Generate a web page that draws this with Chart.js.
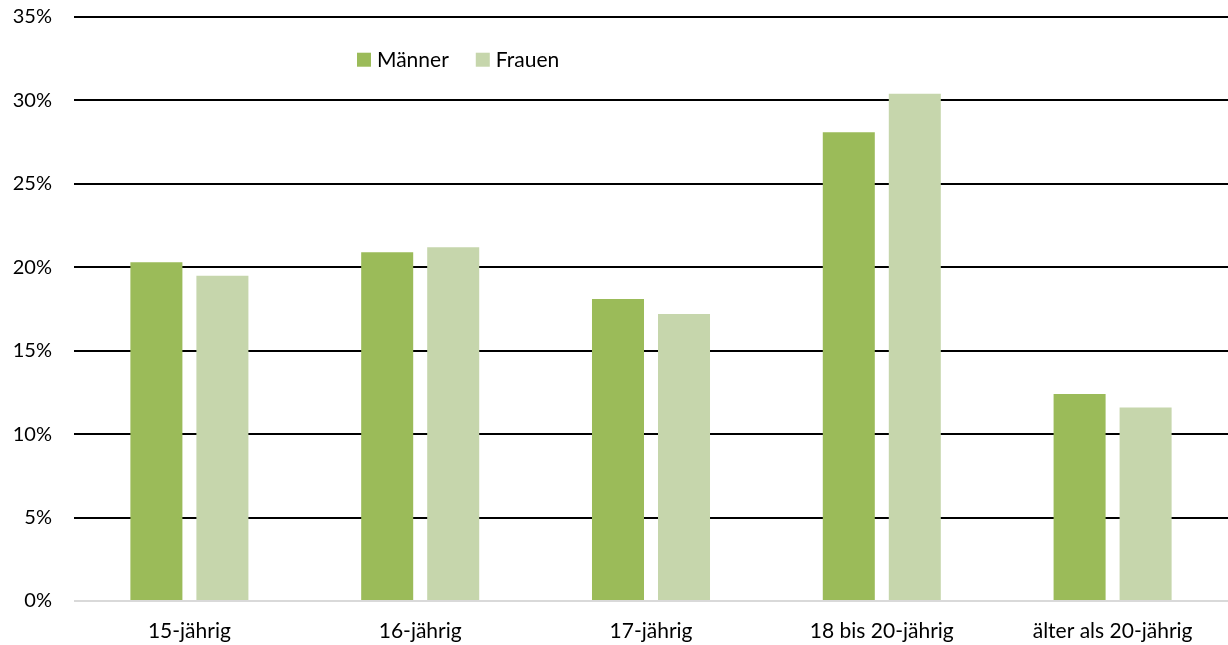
<!DOCTYPE html>
<html>
<head>
<meta charset="utf-8">
<script src="https://cdn.jsdelivr.net/npm/chart.js@4"></script>
<style>
  html, body { margin: 0; padding: 0; background: #fff; }
  #wrap { position: relative; width: 1228px; height: 645px; }
</style>
</head>
<body>
<div id="wrap"><canvas id="c" width="1228" height="645"></canvas></div>
<script>
const categories = ['15-jährig', '16-jährig', '17-jährig', '18 bis 20-jährig', 'älter als 20-jährig'];
const maenner = [20.3, 20.9, 18.1, 28.1, 12.4];
const frauen = [19.5, 21.2, 17.2, 30.4, 11.6];
const seriesNames = ['Männer', 'Frauen'];
const seriesColors = ['#9BBB59', '#C6D6AC'];
const yTicks = [0, 5, 10, 15, 20, 25, 30, 35];

const FONT = 'Lato, "Open Sans", sans-serif';

// Legend drawn inside the plot area, near its upper left
const innerLegend = {
  id: 'innerLegend',
  afterDraw(chart) {
    const ctx = chart.ctx;
    const area = chart.chartArea;
    const yScale = chart.scales.y;
    const y = (yScale.getPixelForValue(35) + yScale.getPixelForValue(30)) / 2 + 1;
    let x = area.left + 283;
    ctx.save();
    ctx.font = '21px ' + FONT;
    ctx.textBaseline = 'middle';
    chart.data.datasets.forEach((ds) => {
      ctx.fillStyle = ds.backgroundColor;
      ctx.fillRect(x, y - 7, 14, 14);
      ctx.fillStyle = '#000';
      ctx.fillText(ds.label, x + 20, y + 1);
      x += 20 + ctx.measureText(ds.label).width + 27;
    });
    ctx.restore();
  }
};

new Chart(document.getElementById('c'), {
  type: 'bar',
  data: {
    labels: categories,
    datasets: [
      { label: seriesNames[0], data: maenner, backgroundColor: seriesColors[0] },
      { label: seriesNames[1], data: frauen, backgroundColor: seriesColors[1] }
    ]
  },
  options: {
    responsive: false,
    animation: false,
    devicePixelRatio: 1,
    layout: { padding: { top: 17, right: 0, left: 0, bottom: 0 } },
    datasets: { bar: { categoryPercentage: 0.572, barPercentage: 0.788, borderWidth: 0 } },
    plugins: {
      legend: { display: false },
      tooltip: { enabled: false }
    },
    scales: {
      x: {
        grid: { display: false },
        border: { display: false },
        ticks: { color: '#000', font: { family: FONT, size: 21 }, padding: 10, maxRotation: 0 },
        afterFit(scale) { scale.height = 44; scale.paddingLeft = 0; scale.paddingRight = 0; }
      },
      y: {
        min: 0,
        max: 35,
        afterBuildTicks(scale) { scale.ticks = yTicks.map(v => ({ value: v })); },
        grid: {
          color: (c) => (c.tick && c.tick.value === 0 ? '#D9D9D9' : '#000'),
          lineWidth: 2,
          drawTicks: false
        },
        border: { display: false },
        ticks: {
          color: '#000',
          font: { family: FONT, size: 20 },
          padding: 22,
          callback: (v) => v + '%'
        },
        afterFit(scale) { scale.width = 74; scale.paddingTop = 0; scale.paddingBottom = 0; }
      }
    }
  },
  plugins: [innerLegend]
});
</script>
</body>
</html>
